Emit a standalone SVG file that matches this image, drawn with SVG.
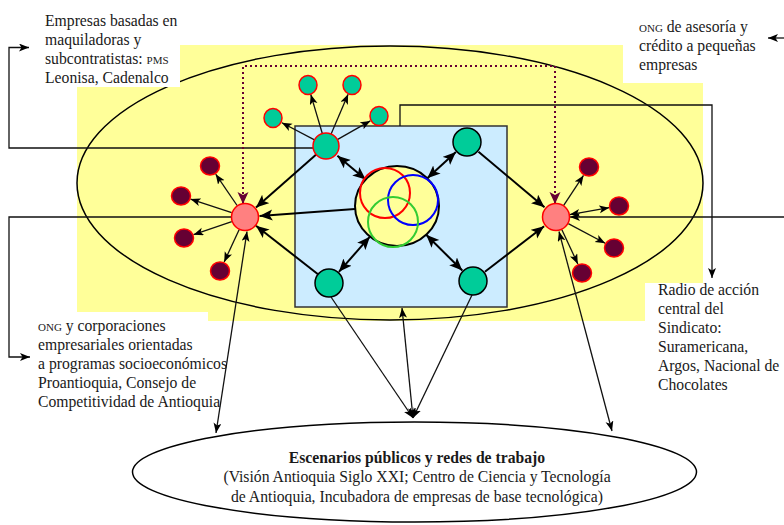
<svg xmlns="http://www.w3.org/2000/svg" width="784" height="525" viewBox="0 0 784 525">
<style>
text{font-family:"Liberation Serif","Times New Roman",serif;font-size:15.7px;fill:#1a1a1a}
.sc{font-size:11px}
.b{font-weight:bold}
.ln{fill:none;stroke:#111;stroke-width:1.3}
.tk{fill:none;stroke:#000;stroke-width:2}
.green{fill:#00CC99;stroke:#000;stroke-width:1.5}
.greenr{fill:#00CC99;stroke:#FF0000;stroke-width:1.5}
.pink{fill:#FF8080;stroke:#FF0000;stroke-width:1.5}
.dark{fill:#660033;stroke:#FF0000;stroke-width:1.5}
.dot{fill:none;stroke:#660033;stroke-width:2;stroke-dasharray:2 3}
</style>
<defs>
<marker id="a" markerUnits="userSpaceOnUse" markerWidth="11" markerHeight="9" refX="10" refY="4" orient="auto-start-reverse"><path d="M0,0 L10,4 L0,8 L2.5,4 z" fill="#000"/></marker>
<marker id="A" markerUnits="userSpaceOnUse" markerWidth="14" markerHeight="12" refX="13" refY="5.5" orient="auto-start-reverse"><path d="M0,0 L13,5.5 L0,11 L3,5.5 z" fill="#000"/></marker>
<marker id="p" markerUnits="userSpaceOnUse" markerWidth="14" markerHeight="12" refX="12" refY="5.5" orient="auto-start-reverse"><path d="M0,0 L12,5.5 L0,11 L3,5.5 z" fill="#660033"/></marker>
</defs>

<g id="background">
<rect x="77" y="45" width="626" height="276" fill="#FFFF99"/>
<ellipse cx="390" cy="183" rx="313" ry="137" fill="none" stroke="#000" stroke-width="1.5"/>
<rect x="295" y="126" width="212" height="181" fill="#CCECFF" stroke="#333" stroke-width="1.5"/>
</g>

<g id="textboxes">
<rect x="40" y="8" width="140" height="79" fill="#fff"/>
<rect x="623" y="15" width="161" height="68" fill="#fff"/>
<rect x="645" y="283" width="139" height="117" fill="#fff"/>
<rect x="33" y="312" width="175" height="103" fill="#fff"/>
</g>

<g id="connectors">
<!-- outer routed connectors -->
<path class="ln" d="M313,148 H9 V47.5 H29" marker-end="url(#a)"/>
<path class="ln" d="M231,217 H9 V357 H30" marker-end="url(#a)"/>
<path class="ln" d="M400,126 V105 H712 V278" marker-end="url(#a)"/>
<path class="ln" d="M784,38 H768" marker-end="url(#a)"/>
<path class="ln" d="M784,217 H570" marker-end="url(#a)"/>
<!-- dotted -->
<path class="dot" d="M243,204 V66 H555 V204" marker-start="url(#p)" marker-end="url(#p)"/>
<!-- top green to small greens -->
<line class="ln" x1="322.3" y1="133.5" x2="310.8" y2="94.6" marker-end="url(#a)"/>
<line class="ln" x1="331.1" y1="134" x2="348.1" y2="94.2" marker-end="url(#a)"/>
<line class="ln" x1="314.5" y1="139.9" x2="281.9" y2="122.7" marker-end="url(#a)"/>
<line class="ln" x1="337.3" y1="139.6" x2="370.3" y2="120.9" marker-end="url(#a)"/>
<!-- thick to left pink -->
<line class="tk" x1="316.2" y1="154.6" x2="256" y2="207.5" marker-end="url(#A)"/>
<line class="tk" x1="355" y1="209" x2="259.5" y2="216" marker-end="url(#A)"/>
<line class="tk" x1="318" y1="274.3" x2="256" y2="225.7" marker-end="url(#A)"/>
<!-- double with center -->
<line class="tk" x1="337.4" y1="155.7" x2="365.7" y2="179.6" marker-start="url(#A)" marker-end="url(#A)"/>
<line class="tk" x1="455.9" y1="152.1" x2="427.3" y2="178.3" marker-start="url(#A)" marker-end="url(#A)"/>
<line class="tk" x1="338.9" y1="271.8" x2="369.9" y2="236.7" marker-start="url(#A)" marker-end="url(#A)"/>
<line class="tk" x1="462.3" y1="270.5" x2="426.2" y2="234.8" marker-start="url(#A)" marker-end="url(#A)"/>
<!-- thick to right pink -->
<line class="tk" x1="478.5" y1="151.7" x2="544.5" y2="207.3" marker-end="url(#A)"/>
<line class="tk" x1="484.9" y1="271.8" x2="544.1" y2="226.2" marker-end="url(#A)"/>
<!-- left pink to dark -->
<line class="ln" x1="237.1" y1="205.5" x2="215.7" y2="174.2" marker-end="url(#a)"/>
<line class="ln" x1="231.7" y1="212.6" x2="190.5" y2="199.1" marker-end="url(#a)"/>
<line class="ln" x1="231.8" y1="221.6" x2="193.5" y2="234.7" marker-end="url(#a)"/>
<line class="ln" x1="239.1" y1="229.7" x2="224.2" y2="261.9" marker-end="url(#a)"/>
<!-- right pink to dark -->
<line class="ln" x1="563.7" y1="205.3" x2="583.5" y2="175.4" marker-end="url(#a)"/>
<line class="ln" x1="569.8" y1="214.6" x2="609.2" y2="207.7" marker-start="url(#a)" marker-end="url(#a)"/>
<line class="ln" x1="568.3" y1="223.6" x2="605.2" y2="243.3" marker-end="url(#a)"/>
<line class="ln" x1="561.9" y1="229.7" x2="577.8" y2="263.9" marker-end="url(#a)"/>
<!-- long lines to bottom ellipse -->
<line class="ln" x1="247" y1="231.5" x2="216" y2="433" marker-start="url(#a)" marker-end="url(#a)"/>
<line class="ln" x1="559" y1="231.5" x2="612" y2="431" marker-start="url(#a)" marker-end="url(#a)"/>
<line class="ln" x1="331" y1="297" x2="413" y2="418" marker-end="url(#a)"/>
<line class="ln" x1="472" y1="295" x2="413" y2="418" marker-end="url(#a)"/>
<line class="ln" x1="402" y1="308" x2="413" y2="418" marker-start="url(#a)" marker-end="url(#a)"/>
</g>

<g id="center">
<ellipse cx="397" cy="206" rx="42" ry="40" fill="#FFFF99" stroke="#000" stroke-width="2"/>
<circle cx="385" cy="193" r="25" fill="none" stroke="#FF0000" stroke-width="2"/>
<circle cx="413" cy="200" r="25" fill="none" stroke="#0000FF" stroke-width="2"/>
<circle cx="393" cy="222" r="25" fill="none" stroke="#33CC33" stroke-width="2"/>
</g>

<g id="green-top"><circle class="greenr" cx="326" cy="146" r="13"/></g>
<g id="green-s1"><ellipse class="greenr" cx="308" cy="85" rx="9" ry="9.5"/></g>
<g id="green-s2"><ellipse class="greenr" cx="352" cy="85" rx="9" ry="9.5"/></g>
<g id="green-s3"><ellipse class="greenr" cx="273" cy="118" rx="9" ry="9.5"/></g>
<g id="green-s4"><ellipse class="greenr" cx="379" cy="116" rx="9" ry="9.5"/></g>
<g id="green-tr"><circle class="green" cx="467" cy="142" r="14"/></g>
<g id="green-bl"><circle class="green" cx="329" cy="283" r="14"/></g>
<g id="green-br"><circle class="green" cx="473" cy="281" r="14"/></g>

<g id="pink-left"><circle class="pink" cx="245" cy="217" r="13.5"/></g>
<g id="pink-right"><circle class="pink" cx="556" cy="217" r="13.5"/></g>

<g id="dark-l1"><ellipse class="dark" cx="210" cy="166" rx="9.5" ry="9"/></g>
<g id="dark-l2"><ellipse class="dark" cx="181" cy="196" rx="9.5" ry="9"/></g>
<g id="dark-l3"><ellipse class="dark" cx="184" cy="238" rx="9.5" ry="9"/></g>
<g id="dark-l4"><ellipse class="dark" cx="220" cy="271" rx="9.5" ry="9"/></g>
<g id="dark-r1"><ellipse class="dark" cx="589" cy="167" rx="9.5" ry="9"/></g>
<g id="dark-r2"><ellipse class="dark" cx="619" cy="206" rx="9.5" ry="9"/></g>
<g id="dark-r3"><ellipse class="dark" cx="614" cy="248" rx="9.5" ry="9"/></g>
<g id="dark-r4"><ellipse class="dark" cx="582" cy="273" rx="9.5" ry="9"/></g>

<g id="label-top-left">
<text x="45" y="26">Empresas basadas en</text>
<text x="45" y="45">maquiladoras y</text>
<text x="45" y="64">subcontratistas: <tspan class="sc">PMS</tspan></text>
<text x="45" y="83">Leonisa, Cadenalco</text>
</g>

<g id="label-top-right">
<text x="639" y="32"><tspan class="sc">ONG</tspan> de asesoría y</text>
<text x="639" y="51">crédito a pequeñas</text>
<text x="639" y="70">empresas</text>
</g>

<g id="label-right">
<text x="658" y="295">Radio de acción</text>
<text x="658" y="314">central del</text>
<text x="658" y="333">Sindicato:</text>
<text x="658" y="352">Suramericana,</text>
<text x="658" y="371">Argos, Nacional de</text>
<text x="658" y="390">Chocolates</text>
</g>

<g id="label-bottom-left">
<text x="38" y="331"><tspan class="sc">ONG</tspan> y corporaciones</text>
<text x="38" y="350">empresariales orientadas</text>
<text x="38" y="369">a programas socioeconómicos</text>
<text x="38" y="388">Proantioquia, Consejo de</text>
<text x="38" y="407">Competitividad de Antioquia</text>
</g>

<g id="scenarios">
<ellipse cx="414.5" cy="472" rx="282" ry="50" fill="#fff" stroke="#000" stroke-width="1.5"/>
<text class="b" x="417" y="463" text-anchor="middle">Escenarios públicos y redes de trabajo</text>
<text x="417" y="482" text-anchor="middle">(Visión Antioquia Siglo XXI; Centro de Ciencia y Tecnología</text>
<text x="417" y="502" text-anchor="middle">de Antioquia, Incubadora de empresas de base tecnológica)</text>
</g>
</svg>
